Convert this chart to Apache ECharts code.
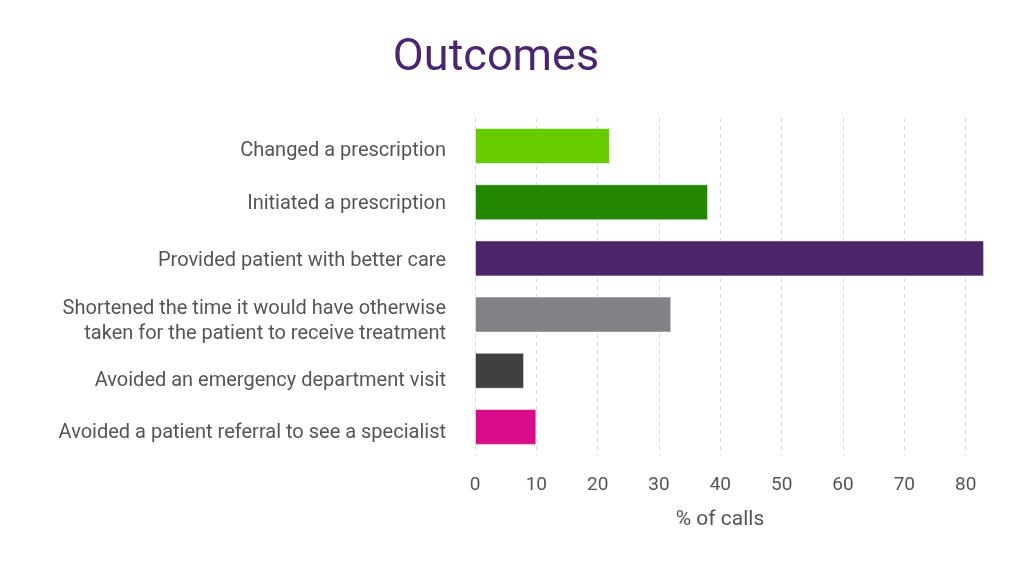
<!DOCTYPE html>
<html>
<head>
<meta charset="utf-8">
<script src="https://cdn.jsdelivr.net/npm/echarts@6/dist/echarts.min.js"></script>
<style>html,body{margin:0;padding:0;background:#fff}#c{width:1024px;height:576px}</style>
</head>
<body>
<div id="c"></div>
<script>
const categories = [
  "Changed a prescription",
  "Initiated a prescription",
  "Provided patient with better care",
  "Shortened the time it would have otherwise\ntaken for the patient to receive treatment",
  "Avoided an emergency department visit",
  "Avoided a patient referral to see a specialist"
];
const values = [22, 38, 83, 32, 8, 10];
const barColors = ["#66CC00", "#238800", "#4B266B", "#808285", "#404041", "#D90D8A"];
const xTicks = [0, 10, 20, 30, 40, 50, 60, 70, 80];
// styling only: small downward nudges of each category label (px)
const labelNudge = [5, 2, 3, 7, 10, 6];

const FONT = "Roboto";
const rich = {};
labelNudge.forEach((n, i) => {
  rich['s' + i] = {fontSize: 2, lineHeight: n * 2};
});
rich.t = {color: '#555555', fontSize: 20, fontFamily: FONT, lineHeight: 25};

const chart = echarts.init(document.getElementById('c'), null, {renderer: 'canvas'});
chart.setOption({
  backgroundColor: '#ffffff',
  animation: false,
  title: [
    {text: 'Outcomes', left: 491, top: 31, textAlign: 'center',
     textStyle: {color: '#4B2670', fontSize: 45, fontWeight: 'normal', fontFamily: FONT}},
    {text: '% of calls', left: 715, top: 504, textAlign: 'center',
     textStyle: {color: '#555555', fontSize: 21, fontWeight: 'normal', fontFamily: FONT}}
  ],
  grid: {left: 475, top: 118, width: 552, height: 337, containLabel: false, outerBoundsMode: 'none'},
  xAxis: {
    type: 'value', min: 0, max: 90, interval: 10,
    axisLine: {show: false}, axisTick: {show: false},
    splitLine: {show: true, lineStyle: {color: '#d9d9d9', type: [4, 4], width: 1}},
    axisLabel: {color: '#555555', fontSize: 19, fontFamily: FONT, margin: 21,
      formatter: v => xTicks.includes(v) ? String(v) : ''}
  },
  yAxis: {
    type: 'category', inverse: true, data: categories,
    axisLine: {show: false}, axisTick: {show: false},
    axisLabel: {color: '#555555', fontSize: 20, fontFamily: FONT, margin: 29, align: 'right', lineHeight: 25,
      formatter: (val, idx) => '{s' + idx + '| }\n' + val.split('\n').map(l => '{t|' + l + '}').join('\n'),
      rich: rich}
  },
  series: [{
    type: 'bar', barCategoryGap: '36%',
    data: values.map((v, i) => ({value: v, itemStyle: {color: barColors[i]}})),
    itemStyle: {borderColor: 'rgba(255,255,255,0.5)', borderWidth: 1}
  }]
});
</script>
</body>
</html>
